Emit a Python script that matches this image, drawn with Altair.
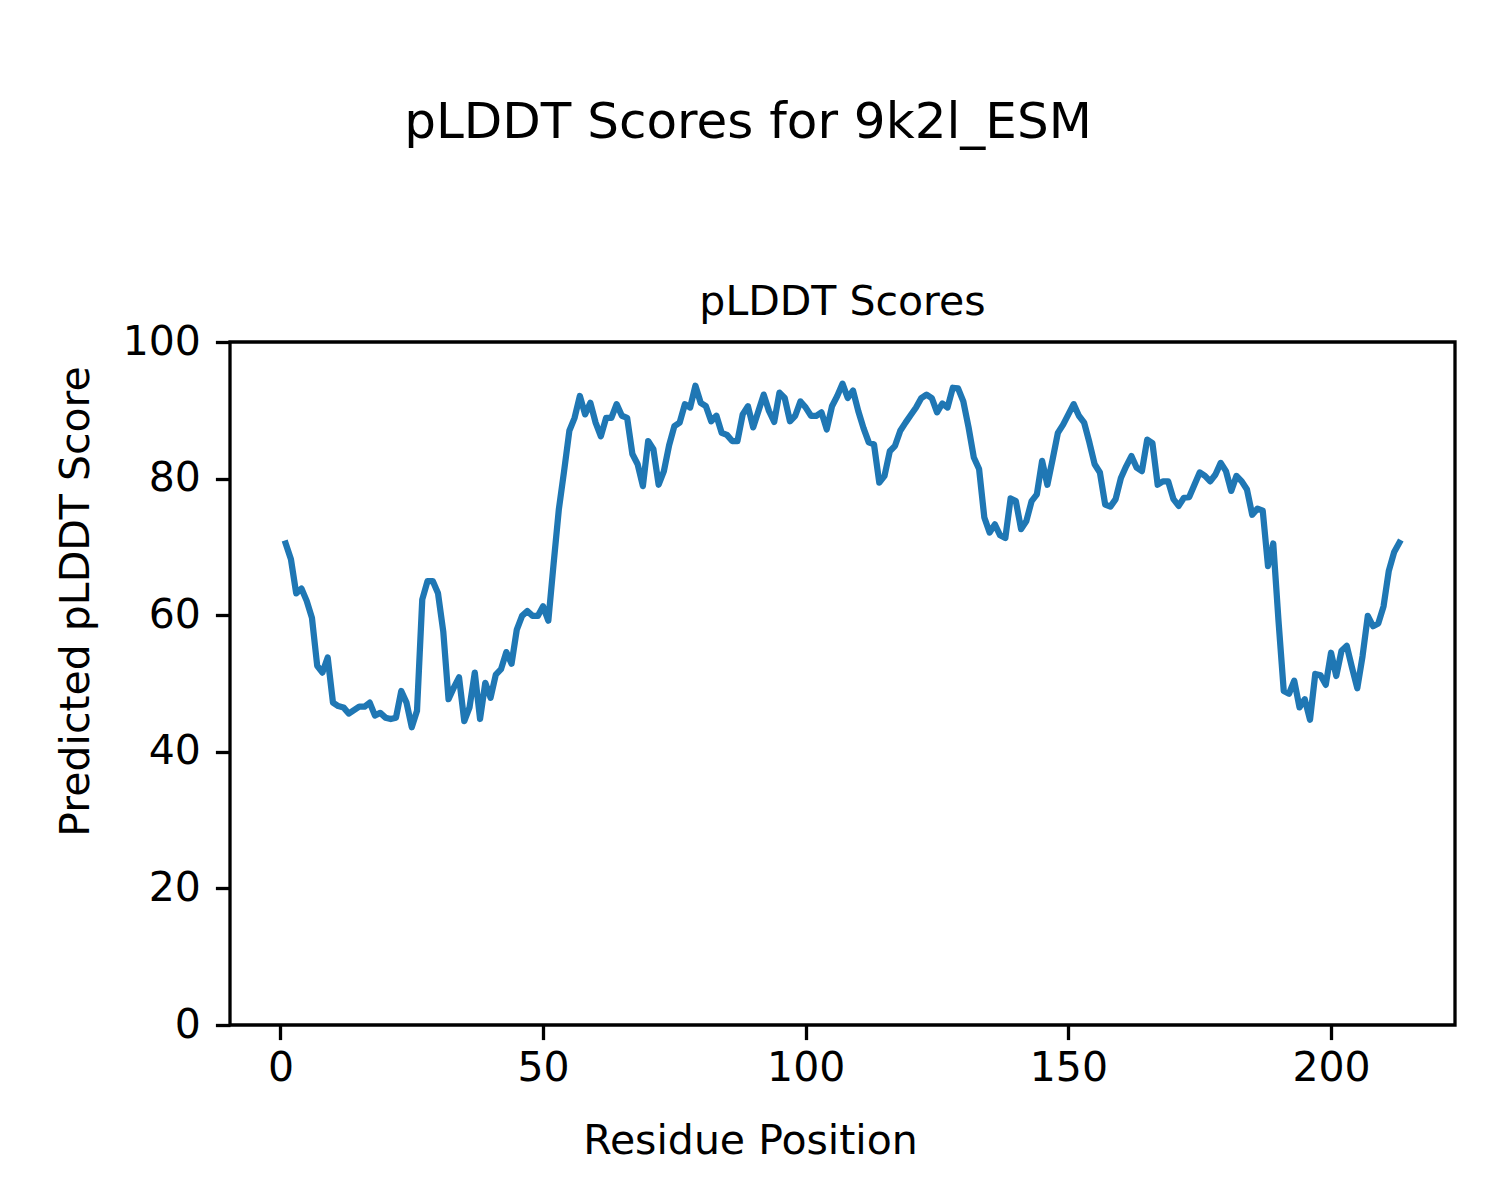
import altair as alt
import pandas as pd

residues = list(range(1, 214))
plddt = [
    70.5, 68.2, 63.2, 63.9, 62.1, 59.6, 52.6, 51.6, 53.8, 47.2,
    46.7, 46.5, 45.6, 46.1, 46.6, 46.6, 47.2, 45.3, 45.7, 45.0,
    44.8, 45.0, 48.9, 47.2, 43.6, 46.0, 62.3, 65.0, 65.0, 63.2,
    57.6, 47.7, 49.4, 50.9, 44.5, 46.5, 51.6, 44.8, 50.1, 47.9,
    51.3, 52.1, 54.6, 52.9, 57.9, 59.9, 60.6, 59.9, 59.9, 61.3,
    59.2, 67.5, 75.5, 81.1, 87.0, 88.9, 92.1, 89.4, 91.1, 88.2,
    86.2, 88.9, 88.9, 90.9, 89.2, 88.9, 83.6, 82.1, 78.9, 85.5,
    84.3, 79.1, 81.1, 84.9, 87.7, 88.2, 90.9, 90.4, 93.6, 91.1,
    90.6, 88.4, 89.2, 86.7, 86.4, 85.5, 85.5, 89.4, 90.6, 87.5,
    89.9, 92.3, 89.9, 88.3, 92.6, 91.8, 88.4, 89.2, 91.3, 90.4,
    89.2, 89.2, 89.7, 87.2, 90.6, 92.1, 93.9, 91.8, 92.9, 89.9,
    87.4, 85.3, 85.0, 79.4, 80.4, 84.0, 84.8, 87.0, 88.2, 89.3,
    90.4, 91.8, 92.3, 91.8, 89.7, 91.0, 90.4, 93.3, 93.2, 91.3,
    87.5, 83.1, 81.4, 74.3, 72.1, 73.3, 71.7, 71.3, 77.1, 76.7,
    72.6, 73.8, 76.7, 77.7, 82.6, 79.1, 82.8, 86.7, 87.9, 89.4,
    90.9, 89.2, 88.2, 85.3, 82.1, 80.9, 76.2, 75.9, 77.0, 80.1,
    81.8, 83.3, 81.6, 81.1, 85.7, 85.2, 79.1, 79.6, 79.6, 77.0,
    76.0, 77.2, 77.3, 79.1, 80.9, 80.4, 79.6, 80.6, 82.3, 81.1,
    78.2, 80.4, 79.6, 78.4, 74.7, 75.6, 75.3, 67.2, 70.5, 59.2,
    48.9, 48.5, 50.4, 46.5, 47.7, 44.7, 51.4, 51.2, 49.8, 54.5,
    51.1, 54.8, 55.5, 52.3, 49.3, 54.0, 59.9, 58.4, 58.8, 61.3,
    66.5, 69.2, 70.6,
]
x_ticks = [0, 50, 100, 150, 200]
y_ticks = [0, 20, 40, 60, 80, 100]

df = pd.DataFrame({"residue": residues, "plddt": plddt})

FONT = "DejaVu Sans"

inner = alt.Chart(df).mark_line(
    color="#1f77b4", strokeWidth=6.25, strokeJoin="round", strokeCap="square"
).encode(
    x=alt.X(
        "residue:Q",
        scale=alt.Scale(domain=[-9.6, 223.6], nice=False, zero=False),
        axis=alt.Axis(
            values=x_ticks, title="Residue Position", grid=False, domain=False,
            tickSize=14.6, tickWidth=3.3, tickColor="black",
            labelFontSize=41, labelColor="black", labelFont=FONT, labelPadding=9,
            labelFlush=False,
            titleFontSize=41, titleFont=FONT, titleFontWeight="normal", titleColor="black",
            titleX=520, titleY=128, titleAlign="center", titleBaseline="alphabetic",
        ),
    ),
    y=alt.Y(
        "plddt:Q",
        scale=alt.Scale(domain=[0, 100], nice=False, zero=False),
        axis=alt.Axis(
            values=y_ticks, title="Predicted pLDDT Score", grid=False, domain=False,
            tickSize=14.6, tickWidth=3.3, tickColor="black",
            labelFontSize=41, labelColor="black", labelFont=FONT, labelPadding=15,
            labelFlush=False,
            titleFontSize=41, titleFont=FONT, titleFontWeight="normal", titleColor="black",
            titleX=-142, titleY=259, titleAngle=270, titleAlign="center",
            titleBaseline="alphabetic",
        ),
    ),
).properties(
    width=1225,
    height=683,
    title=alt.TitleParams(
        "pLDDT Scores", fontSize=41, font=FONT, fontWeight="normal", color="black",
        anchor="middle", frame="group", baseline="alphabetic", offset=-35,
    ),
)

chart = alt.vconcat(inner).properties(
    title=alt.TitleParams(
        "pLDDT Scores for 9k2l_ESM", fontSize=50, font=FONT, fontWeight="normal",
        color="black", anchor="middle", baseline="alphabetic", offset=92, dx=-7,
    ),
    padding={"left": 45, "top": 90, "right": 10, "bottom": 10},
).configure(
    font=FONT,
    view=alt.ViewConfig(stroke="black", strokeWidth=3.3),
)

chart.save("out.html", embed_options={"renderer": "svg", "actions": False})
